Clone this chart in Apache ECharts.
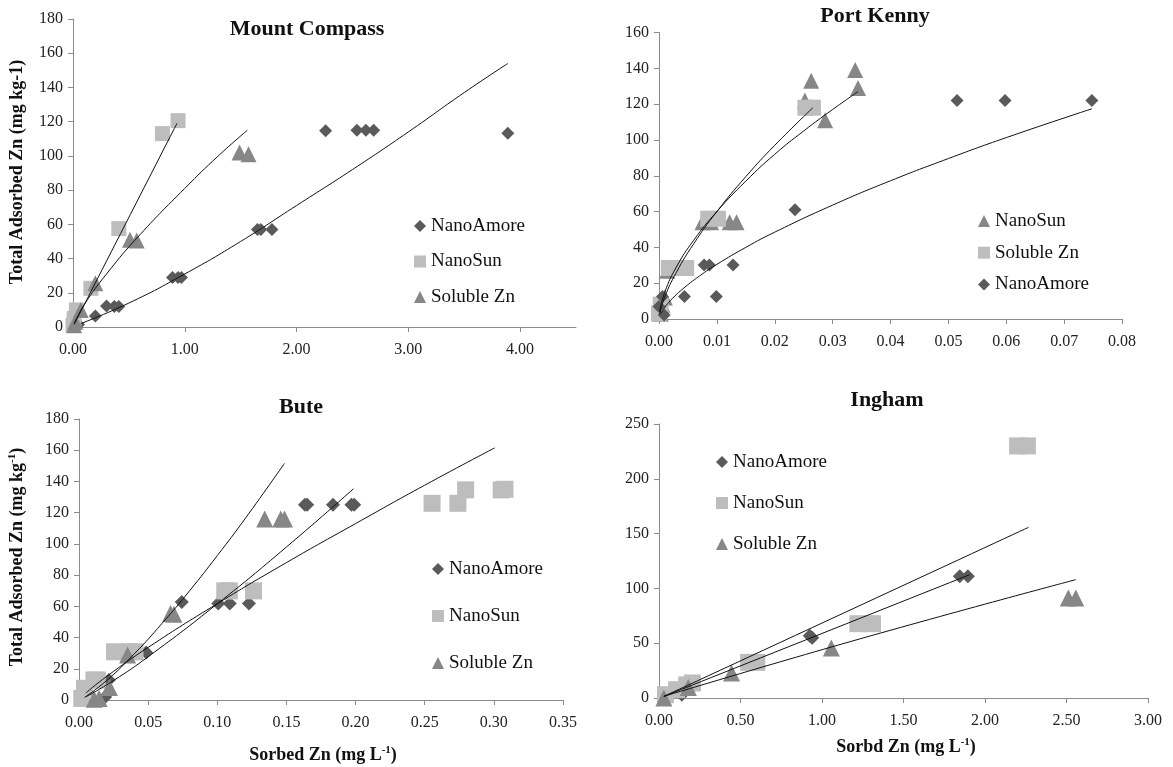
<!DOCTYPE html>
<html>
<head>
<meta charset="utf-8">
<script src="https://cdn.jsdelivr.net/npm/echarts@6/dist/echarts.min.js"></script>
<style>
html,body{margin:0;padding:0;background:#fff;}
#chart{width:1173px;height:767px;}
</style>
</head>
<body>
<div id="chart"></div>
<script>
// ---------- Mount Compass ----------
const mcAmoreX = [0.05, 0.20, 0.30, 0.37, 0.41, 0.89, 0.94, 0.97, 1.65, 1.68, 1.78, 2.26, 2.54, 2.62, 2.69, 3.89];
const mcAmoreY = [1.5, 6.4, 12.3, 12, 12, 29, 29, 29, 57, 57, 57, 114.7, 115, 115, 115, 113.2];
const mcSunX = [0.00, 0.01, 0.03, 0.16, 0.41, 0.80, 0.94];
const mcSunY = [1, 5, 10, 22.6, 57.5, 113, 120.6];
const mcSolX = [0.01, 0.02, 0.07, 0.20, 0.51, 0.57, 1.49, 1.57];
const mcSolY = [1, 3, 10, 25.5, 51, 50.5, 102, 101];
const mcAmoreFitX = [0.07, 0.5, 1.0, 1.5, 2.0, 2.5, 3.0, 3.5, 3.89];
const mcAmoreFitY = [2, 14, 31, 50, 71, 92, 114, 137, 154];
const mcSunFitX = [0.01, 0.93];
const mcSunFitY = [1.5, 119];
const mcSolFitX = [0.01, 0.1, 0.3, 0.6, 1.0, 1.3, 1.56];
const mcSolFitY = [2, 13, 31, 54, 81, 100, 115];
const mcXTicks = [0, 1, 2, 3, 4];

// ---------- Port Kenny ----------
const pkSunX = [0.0003, 0.0006, 0.0010, 0.0014, 0.0075, 0.0090, 0.0122, 0.0134, 0.0252, 0.0263, 0.0287, 0.0339, 0.0344];
const pkSunY = [3, 8, 12, 27, 54, 54, 54, 54, 122, 133, 111, 139, 129];
const pkSolX = [0.0000, 0.0003, 0.0017, 0.0032, 0.0047, 0.0085, 0.0102, 0.0253, 0.0266];
const pkSolY = [3, 8, 28.5, 28.5, 28.5, 56, 56, 118, 118];
const pkAmoreX = [0.0000, 0.0009, 0.0006, 0.0044, 0.0078, 0.0087, 0.0099, 0.0128, 0.0235, 0.0515, 0.0598, 0.0748];
const pkAmoreY = [7, 2.2, 12.5, 12.5, 30.2, 30.2, 12.5, 30.2, 61, 122, 122, 122];
const pkSunFitX = [0.0001, 0.001, 0.003, 0.006, 0.01, 0.015, 0.02, 0.025, 0.03, 0.0344];
const pkSunFitY = [4, 15, 29, 44, 60, 77, 92, 105, 117, 127];
const pkSolFitX = [0.0001, 0.001, 0.003, 0.006, 0.01, 0.015, 0.02, 0.0266];
const pkSolFitY = [2.5, 12.3, 26, 42, 60, 79.5, 97, 118];
const pkAmoreFitX = [0.0003, 0.001, 0.002, 0.004, 0.007, 0.01, 0.015, 0.02, 0.03, 0.04, 0.05, 0.06, 0.0748];
const pkAmoreFitY = [2.9, 6.5, 10.4, 16.5, 24, 30.5, 40, 48.5, 63.6, 77.2, 89.6, 101.3, 117.4];

// ---------- Bute ----------
const buteAmoreX = [0.0189, 0.0216, 0.0486, 0.0743, 0.1007, 0.109, 0.1229, 0.1634, 0.165, 0.1837, 0.197, 0.199];
const buteAmoreY = [2, 12.8, 30.5, 62.8, 61.8, 61.8, 61.8, 125, 125, 125, 125, 125];
const buteSunX = [0.002, 0.004, 0.0108, 0.0133, 0.0257, 0.0365, 0.0405, 0.1054, 0.1087, 0.1262, 0.2553, 0.274, 0.2796, 0.3053, 0.308];
const buteSunY = [1, 7.5, 12.8, 12.8, 30.9, 30.9, 30.9, 69.9, 69.9, 69.9, 126, 126, 134.6, 134.6, 135];
const buteSolX = [0.011, 0.0145, 0.022, 0.0351, 0.0662, 0.0686, 0.1343, 0.1459, 0.1486];
const buteSolY = [0.5, 1, 8, 28.8, 55.4, 55, 116, 116, 116];
const buteSolFitX = [0.004, 0.02, 0.04, 0.06, 0.08, 0.1, 0.12, 0.1486];
const buteSolFitY = [1.7, 12.5, 29.6, 49, 70, 92.5, 116, 151.6];
const buteAmoreFitX = [0.005, 0.025, 0.05, 0.1, 0.15, 0.1985];
const buteAmoreFitY = [2, 12.5, 27.7, 61.6, 98, 135.3];
const buteSunFitX = [0.005, 0.02, 0.05, 0.1, 0.15, 0.2, 0.25, 0.3006];
const buteSunFitY = [4.5, 15.1, 33.7, 61.7, 88, 113, 137.6, 161.5];

// ---------- Ingham ----------
const ingSunX = [0.04, 0.108, 0.17, 0.205, 0.55, 0.60, 1.22, 1.31, 2.20, 2.26];
const ingSunY = [3, 7.6, 12, 13.7, 32.5, 32.5, 67.8, 67.8, 230, 230];
const ingAmoreX = [0.03, 0.10, 0.14, 0.925, 0.94, 1.845, 1.895];
const ingAmoreY = [1, 6, 3, 56.8, 55, 111, 111];
const ingSolX = [0.03, 0.18, 0.445, 1.057, 2.511, 2.557];
const ingSolY = [0, 9.6, 22.8, 45.6, 91.2, 91.2];
const ingSunFitX = [0.03, 2.267];
const ingSunFitY = [1.5, 155.7];
const ingAmoreFitX = [0.03, 1.906];
const ingAmoreFitY = [1.5, 112.5];
const ingSolFitX = [0.03, 1.234, 2.557];
const ingSolFitY = [1.5, 54, 108];

// ---------- texts ----------
const titles = ['Mount Compass', 'Port Kenny', 'Bute', 'Ingham'];
const nAmore = 'NanoAmore', nSun = 'NanoSun', nSol = 'Soluble Zn';

// ---------- styling ----------
const SERIF = '"Liberation Serif", "Times New Roman", serif';
const C_DIA = '#5a5a5a', C_SQ = '#bdbdbd', C_TRI = '#878787';
const AXC = '#8c8c8c';

const zip = (xs, ys) => xs.map((x, i) => [x, ys[i]]);

const grids = [
  {left: 73, top: 19, width: 503, height: 308},
  {left: 659, top: 32.5, width: 463, height: 286.5},
  {left: 79, top: 419, width: 484, height: 281},
  {left: 659, top: 424, width: 489, height: 274}
];

function xAx(gi, max, interval, custom) {
  const o = {
    type: 'value', gridIndex: gi, min: 0, max: max, interval: interval,
    axisLine: {show: true, lineStyle: {color: AXC, width: 1}},
    axisTick: {show: true, inside: false, length: 5, lineStyle: {color: AXC}},
    splitLine: {show: false},
    axisLabel: {formatter: v => v.toFixed(2), fontFamily: SERIF, fontSize: 16, color: '#222', margin: 15}
  };
  if (custom) { o.axisLabel.customValues = custom; o.axisTick.customValues = custom; }
  return o;
}
function yAx(gi, max, interval) {
  return {
    type: 'value', gridIndex: gi, min: 0, max: max, interval: interval,
    axisLine: {show: true, lineStyle: {color: AXC, width: 1}},
    axisTick: {show: true, inside: false, length: 5, lineStyle: {color: AXC}},
    splitLine: {show: false},
    axisLabel: {fontFamily: SERIF, fontSize: 16, color: '#222', margin: 10}
  };
}

const series = [];
function sc(panel, label, xs, ys, symbol, color, size, idx) {
  series.push({
    name: panel + '|' + label, type: 'scatter', xAxisIndex: idx, yAxisIndex: idx,
    data: zip(xs, ys), symbol: symbol, symbolSize: size,
    itemStyle: {color: color, opacity: 1}, z: 2, silent: true
  });
}
function fit(xs, ys, idx) {
  series.push({
    type: 'line', xAxisIndex: idx, yAxisIndex: idx, data: zip(xs, ys),
    showSymbol: false, smooth: true, lineStyle: {color: '#111', width: 1},
    z: 3, silent: true
  });
}

// MC
sc('MC', nAmore, mcAmoreX, mcAmoreY, 'diamond', C_DIA, 13, 0);
sc('MC', nSun, mcSunX, mcSunY, 'rect', C_SQ, 15, 0);
sc('MC', nSol, mcSolX, mcSolY, 'triangle', C_TRI, 16, 0);
fit(mcAmoreFitX, mcAmoreFitY, 0);
fit(mcSunFitX, mcSunFitY, 0);
fit(mcSolFitX, mcSolFitY, 0);
// PK (legend swaps: NanoSun triangle, Soluble Zn square)
sc('PK', nSun, pkSunX, pkSunY, 'triangle', C_TRI, 16, 1);
sc('PK', nSol, pkSolX, pkSolY, 'rect', C_SQ, 16, 1);
sc('PK', nAmore, pkAmoreX, pkAmoreY, 'diamond', C_DIA, 13, 1);
fit(pkSunFitX, pkSunFitY, 1);
fit(pkSolFitX, pkSolFitY, 1);
fit(pkAmoreFitX, pkAmoreFitY, 1);
// Bute
sc('BU', nAmore, buteAmoreX, buteAmoreY, 'diamond', C_DIA, 14, 2);
sc('BU', nSun, buteSunX, buteSunY, 'rect', C_SQ, 17, 2);
sc('BU', nSol, buteSolX, buteSolY, 'triangle', C_TRI, 17, 2);
fit(buteSolFitX, buteSolFitY, 2);
fit(buteAmoreFitX, buteAmoreFitY, 2);
fit(buteSunFitX, buteSunFitY, 2);
// Ingham
sc('IN', nAmore, ingAmoreX, ingAmoreY, 'diamond', C_DIA, 14, 3);
sc('IN', nSun, ingSunX, ingSunY, 'rect', C_SQ, 17, 3);
sc('IN', nSol, ingSolX, ingSolY, 'triangle', C_TRI, 17, 3);
fit(ingSunFitX, ingSunFitY, 3);
fit(ingAmoreFitX, ingAmoreFitY, 3);
fit(ingSolFitX, ingSolFitY, 3);

function leg(panel, items, left, top, gap) {
  return {
    orient: 'vertical', left: left, top: top, itemGap: gap, itemWidth: 12, itemHeight: 12,
    selectedMode: false, padding: 0,
    formatter: n => n.split('|')[1],
    textStyle: {fontFamily: SERIF, fontSize: 19, color: '#111', lineHeight: 20},
    data: items.map(it => ({name: panel + '|' + it[0], icon: it[1]}))
  };
}

const legends = [
  leg('MC', [[nAmore, 'diamond'], [nSun, 'rect'], [nSol, 'triangle']], 414, 216, 15.5),
  leg('PK', [[nSun, 'triangle'], [nSol, 'rect'], [nAmore, 'diamond']], 978, 211, 11.7),
  leg('BU', [[nAmore, 'diamond'], [nSun, 'rect'], [nSol, 'triangle']], 432, 559, 27),
  leg('IN', [[nAmore, 'diamond'], [nSun, 'rect'], [nSol, 'triangle']], 716, 452, 21)
];

const titleFont = 'bold 22px ' + SERIF;
const axFont = 'bold 18px ' + SERIF;
const supRich = {
  a: {fontFamily: SERIF, fontWeight: 'bold', fontSize: 18, fill: '#111'},
  s: {fontFamily: SERIF, fontWeight: 'bold', fontSize: 11, fill: '#111', padding: [0, 0, 9, 0]}
};

const graphics = [
  {type: 'text', x: 307, y: 29, style: {text: titles[0], font: titleFont, fill: '#111', align: 'center', verticalAlign: 'middle'}},
  {type: 'text', x: 875, y: 16, style: {text: titles[1], font: titleFont, fill: '#111', align: 'center', verticalAlign: 'middle'}},
  {type: 'text', x: 301, y: 407, style: {text: titles[2], font: titleFont, fill: '#111', align: 'center', verticalAlign: 'middle'}},
  {type: 'text', x: 887, y: 400, style: {text: titles[3], font: titleFont, fill: '#111', align: 'center', verticalAlign: 'middle'}},
  {type: 'text', x: 17, y: 172, rotation: Math.PI / 2,
   style: {text: 'Total Adsorbed Zn (mg kg-1)', font: axFont, fill: '#111', align: 'center', verticalAlign: 'middle'}},
  {type: 'text', x: 17, y: 557, rotation: Math.PI / 2,
   style: {text: '{a|Total Adsorbed Zn (mg kg}{s|-1}{a|)}', rich: supRich, align: 'center', verticalAlign: 'middle'}},
  {type: 'text', x: 323, y: 755,
   style: {text: '{a|Sorbed Zn (mg L}{s|-1}{a|)}', rich: supRich, align: 'center', verticalAlign: 'middle'}},
  {type: 'text', x: 906, y: 747,
   style: {text: '{a|Sorbd Zn (mg L}{s|-1}{a|)}', rich: supRich, align: 'center', verticalAlign: 'middle'}}
];

const chart = echarts.init(document.getElementById('chart'), null, {renderer: 'canvas'});
chart.setOption({
  animation: false,
  backgroundColor: '#fff',
  grid: grids,
  xAxis: [
    xAx(0, 4.5, 1, mcXTicks),
    xAx(1, 0.08, 0.01),
    xAx(2, 0.35, 0.05),
    xAx(3, 3, 0.5)
  ],
  yAxis: [yAx(0, 180, 20), yAx(1, 160, 20), yAx(2, 180, 20), yAx(3, 250, 50)],
  legend: legends,
  series: series,
  graphic: graphics
});
</script>
</body>
</html>
